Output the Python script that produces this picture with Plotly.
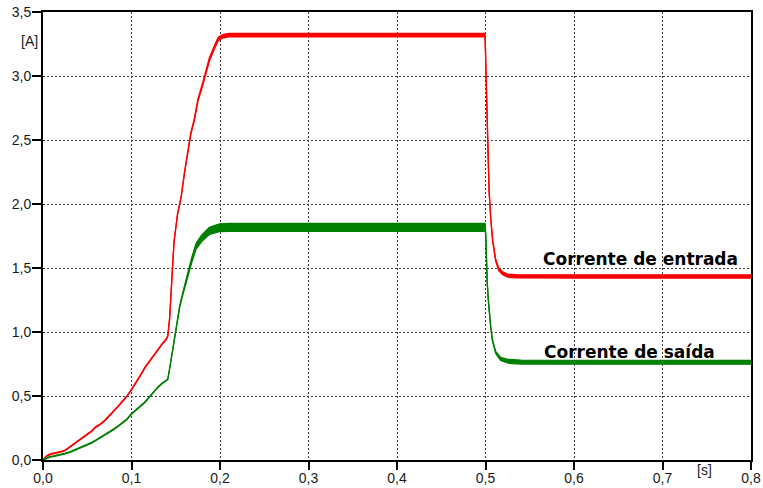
import plotly.graph_objects as go

# Input current (Corrente de entrada): time [s], mid value [A], ripple peak-to-peak [A]
t_in = [0.000, 0.004, 0.008, 0.012, 0.016, 0.020, 0.025, 0.030, 0.035, 0.040,
        0.045, 0.050, 0.055, 0.060, 0.065, 0.070, 0.075, 0.080, 0.085, 0.090,
        0.095, 0.100, 0.105, 0.110, 0.115, 0.120, 0.125, 0.130, 0.135, 0.139,
        0.141, 0.143, 0.146, 0.148, 0.152, 0.156, 0.160, 0.164, 0.167, 0.171,
        0.175, 0.181, 0.185, 0.188, 0.194, 0.198, 0.203, 0.210, 0.250, 0.300,
        0.350, 0.400, 0.450, 0.4995, 0.5005, 0.501, 0.502, 0.503, 0.504, 0.506,
        0.508, 0.5115, 0.515, 0.519, 0.525, 0.535, 0.550, 0.600, 0.700, 0.800]
i_in = [0.000, 0.030, 0.045, 0.050, 0.055, 0.065, 0.075, 0.100, 0.120, 0.145,
        0.170, 0.195, 0.225, 0.260, 0.280, 0.310, 0.345, 0.380, 0.420, 0.460,
        0.500, 0.550, 0.600, 0.660, 0.720, 0.770, 0.820, 0.870, 0.910, 0.940,
        0.970, 1.100, 1.450, 1.700, 1.920, 2.050, 2.250, 2.420, 2.550, 2.660,
        2.810, 2.950, 3.050, 3.130, 3.230, 3.290, 3.310, 3.320, 3.320, 3.320,
        3.320, 3.320, 3.320, 3.320, 3.050, 2.920, 2.570, 2.310, 2.110, 1.880,
        1.720, 1.560, 1.490, 1.460, 1.440, 1.435, 1.434, 1.434, 1.434, 1.434]
rip_in = [0.004, 0.006, 0.006, 0.006, 0.006, 0.006, 0.006, 0.006, 0.006, 0.006,
          0.006, 0.006, 0.006, 0.006, 0.006, 0.006, 0.006, 0.006, 0.006, 0.006,
          0.006, 0.006, 0.006, 0.006, 0.006, 0.006, 0.006, 0.006, 0.006, 0.006,
          0.006, 0.006, 0.006, 0.006, 0.008, 0.010, 0.012, 0.014, 0.016, 0.018,
          0.020, 0.022, 0.024, 0.025, 0.026, 0.027, 0.027, 0.027, 0.027, 0.027,
          0.027, 0.027, 0.027, 0.027, 0.010, 0.008, 0.008, 0.008, 0.008, 0.010,
          0.012, 0.016, 0.020, 0.022, 0.024, 0.025, 0.025, 0.025, 0.025, 0.025]

# Output current (Corrente de saída): time [s], mid value [A], ripple peak-to-peak [A]
t_out = [0.000, 0.004, 0.008, 0.012, 0.016, 0.020, 0.025, 0.030, 0.035, 0.040,
         0.045, 0.050, 0.055, 0.060, 0.065, 0.070, 0.075, 0.080, 0.085, 0.090,
         0.095, 0.100, 0.105, 0.110, 0.115, 0.120, 0.125, 0.130, 0.135, 0.139,
         0.141, 0.143, 0.147, 0.1505, 0.1545, 0.158, 0.164, 0.168, 0.173, 0.179,
         0.188, 0.1995, 0.210, 0.300, 0.400, 0.4995, 0.5002, 0.5009, 0.502, 0.5032,
         0.5047, 0.5059, 0.5077, 0.5115, 0.5171, 0.5265, 0.540, 0.600, 0.700, 0.800]
i_out = [0.000, 0.015, 0.025, 0.030, 0.035, 0.040, 0.050, 0.060, 0.075, 0.085,
         0.100, 0.115, 0.135, 0.155, 0.175, 0.195, 0.215, 0.240, 0.265, 0.290,
         0.320, 0.360, 0.390, 0.420, 0.450, 0.490, 0.530, 0.570, 0.600, 0.620,
         0.630, 0.710, 0.890, 1.020, 1.200, 1.300, 1.460, 1.560, 1.670, 1.730,
         1.790, 1.815, 1.817, 1.817, 1.817, 1.817, 1.770, 1.510, 1.380, 1.250,
         1.120, 1.040, 0.940, 0.840, 0.790, 0.770, 0.765, 0.764, 0.764, 0.764]
rip_out = [0.004, 0.006, 0.006, 0.006, 0.006, 0.006, 0.006, 0.006, 0.006, 0.006,
           0.006, 0.006, 0.006, 0.006, 0.006, 0.006, 0.006, 0.006, 0.006, 0.006,
           0.006, 0.006, 0.006, 0.006, 0.006, 0.006, 0.006, 0.006, 0.006, 0.006,
           0.006, 0.006, 0.008, 0.010, 0.014, 0.020, 0.035, 0.040, 0.045, 0.050,
           0.055, 0.060, 0.062, 0.062, 0.062, 0.062, 0.010, 0.008, 0.008, 0.008,
           0.008, 0.008, 0.010, 0.016, 0.024, 0.030, 0.030, 0.030, 0.030, 0.030]

x_ticks = [0.0, 0.1, 0.2, 0.3, 0.4, 0.5, 0.6, 0.7, 0.8]
y_ticks = [0.0, 0.5, 1.0, 1.5, 2.0, 2.5, 3.0, 3.5]

RED = "#ff0000"
GREEN = "#008000"
TICK_FONT = dict(family="Liberation Sans, Arial, sans-serif", size=14, color="#1a1a1a")
LABEL_FONT = dict(family="DejaVu Sans, Verdana, sans-serif", size=17, color="#000000")


def ripple_band(fig, t, mid, rip, color, name):
    """Draw a signal as its min/max envelope with the area in between filled."""
    lo = [m - r / 2 for m, r in zip(mid, rip)]
    hi = [m + r / 2 for m, r in zip(mid, rip)]
    fig.add_trace(go.Scatter(x=t, y=lo, mode="lines", name=name,
                             line=dict(color=color, width=1.3),
                             showlegend=False, hoverinfo="skip"))
    fig.add_trace(go.Scatter(x=t, y=hi, mode="lines", name=name,
                             line=dict(color=color, width=1.3),
                             fill="tonexty", fillcolor=color,
                             showlegend=False, hoverinfo="skip"))


fig = go.Figure()
ripple_band(fig, t_in, i_in, rip_in, RED, "Corrente de entrada")
ripple_band(fig, t_out, i_out, rip_out, GREEN, "Corrente de saída")

axis_common = dict(
    showline=True, linecolor="#000000", linewidth=2, mirror=True,
    showgrid=True, gridcolor="#3a3a3a", gridwidth=1, griddash="2px,2px",
    zeroline=False, ticks="outside", tickwidth=1.5, tickcolor="#000000",
    tickfont=TICK_FONT, tickformat=".1f", automargin=False,
)

fig.update_xaxes(range=[0, 0.8], tickvals=x_ticks, ticklen=8,
                 ticklabelstandoff=-4, **axis_common)
fig.update_yaxes(range=[0, 3.5], tickvals=y_ticks, ticklen=9,
                 ticklabelstandoff=-2, **axis_common)

fig.add_annotation(text="<b>Corrente de entrada</b>", x=0.788, y=1.567,
                   xref="x", yref="y", xanchor="right", yanchor="middle",
                   showarrow=False, font=LABEL_FONT)
fig.add_annotation(text="<b>Corrente de saída</b>", x=0.762, y=0.846,
                   xref="x", yref="y", xanchor="right", yanchor="middle",
                   showarrow=False, font=LABEL_FONT)
fig.add_annotation(text="[A]", x=-0.004, y=3.27, xref="paper", yref="y",
                   xanchor="right", yanchor="middle", showarrow=False, font=TICK_FONT)
fig.add_annotation(text="[s]", x=0.748, y=-0.022, xref="x", yref="paper",
                   xanchor="center", yanchor="middle", showarrow=False, font=TICK_FONT)

fig.update_layout(
    width=763, height=488,
    margin=dict(l=43, r=12, t=12, b=28),
    paper_bgcolor="#ffffff", plot_bgcolor="#ffffff",
    separators=",.",
    showlegend=False,
)

fig.write_html("out.html")
